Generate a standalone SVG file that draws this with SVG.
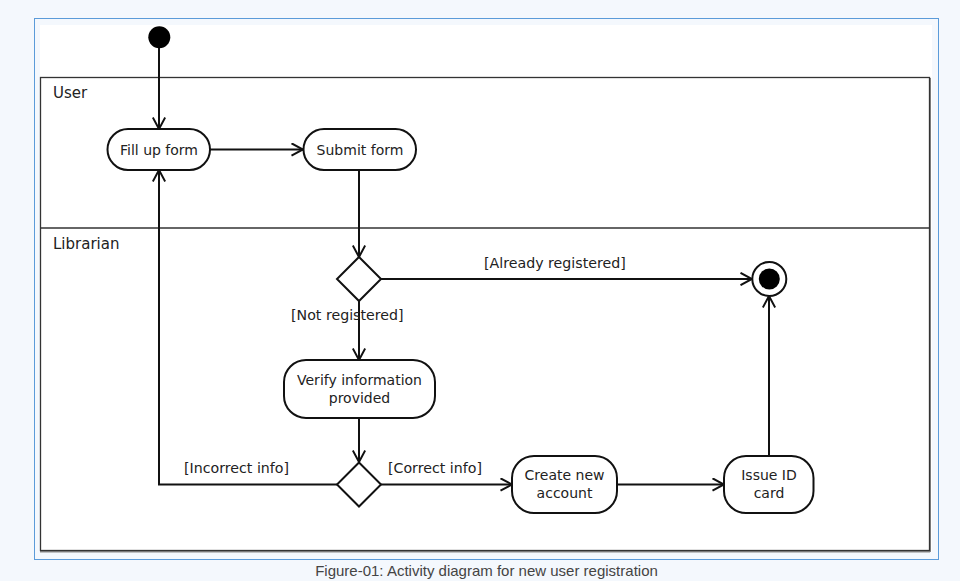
<svg xmlns="http://www.w3.org/2000/svg" width="960" height="581" viewBox="0 0 960 581">
  <style>
    .lane { fill: none; stroke: #333; stroke-width: 1.3; }
    .node { fill: #fff; stroke: #111; stroke-width: 2; }
    .txt { font-family: "DejaVu Sans", sans-serif; font-size: 14px; fill: #222; text-anchor: middle; }
    .lbl { font-family: "DejaVu Sans", sans-serif; font-size: 14.2px; fill: #222; }
    .lanetxt { font-family: "DejaVu Sans", sans-serif; font-size: 15px; fill: #222; }
    .edge { fill: none; stroke: #111; stroke-width: 2; }
    .cap { font-family: "Liberation Sans", Arial, sans-serif; font-size: 15px; fill: #444; text-anchor: middle; }
  </style>
  <defs>
    <marker id="arr" viewBox="0 0 14 14" refX="12.5" refY="7" markerWidth="14" markerHeight="14" markerUnits="userSpaceOnUse" orient="auto">
      <path d="M1,0.8 L12.5,7 L1,13.2" fill="none" stroke="#111" stroke-width="2"/>
    </marker>
  </defs>
  <rect x="0" y="0" width="960" height="581" fill="#f4f8fd"/>
  <rect x="34.5" y="18.5" width="904" height="541" fill="#f4f8fd" stroke="#5b9bd9" stroke-width="1"/>
  <rect x="40" y="25" width="892" height="527" fill="#fff"/>

  <g id="lanes">
    <line x1="930" y1="78" x2="930" y2="552" stroke="#888" stroke-width="2"/>
    <line x1="40" y1="551.5" x2="930" y2="551.5" stroke="#888" stroke-width="2"/>
    <rect class="lane" x="40.5" y="77.5" width="889" height="473"/>
    <line class="lane" x1="40.5" y1="228" x2="929.5" y2="228"/>
    <text class="lanetxt" x="53" y="98">User</text>
    <text class="lanetxt" x="53" y="249">Librarian</text>
  </g>

  <g id="connectors">
    <line class="edge" x1="159" y1="48" x2="159" y2="129" marker-end="url(#arr)"/>
    <line class="edge" x1="210" y1="149.5" x2="303" y2="149.5" marker-end="url(#arr)"/>
    <line class="edge" x1="359" y1="170" x2="359" y2="257" marker-end="url(#arr)"/>
    <line class="edge" x1="381" y1="279" x2="752" y2="279" marker-end="url(#arr)"/>
    <text class="lbl" x="484" y="268">[Already registered]</text>
    <line class="edge" x1="359" y1="301" x2="359" y2="360" marker-end="url(#arr)"/>
    <text class="lbl" x="291" y="320">[Not registered]</text>
    <line class="edge" x1="359" y1="418" x2="359" y2="462" marker-end="url(#arr)"/>
    <polyline class="edge" points="337,484.5 159,484.5 159,170" marker-end="url(#arr)"/>
    <text class="lbl" x="184" y="473">[Incorrect info]</text>
    <line class="edge" x1="381" y1="484.5" x2="512" y2="484.5" marker-end="url(#arr)"/>
    <text class="lbl" x="388" y="473">[Correct info]</text>
    <line class="edge" x1="617" y1="484.5" x2="724" y2="484.5" marker-end="url(#arr)"/>
    <line class="edge" x1="769" y1="456" x2="769" y2="296" marker-end="url(#arr)"/>
  </g>

  <g id="start">
    <circle cx="159.3" cy="37.3" r="11" fill="#000"/>
  </g>
  <g id="fill-form">
    <rect class="node" x="107.5" y="129" width="102.5" height="41" rx="20.5"/>
    <text class="txt" x="159" y="155">Fill up form</text>
  </g>
  <g id="submit-form">
    <rect class="node" x="303.5" y="129" width="112.5" height="41" rx="20.5"/>
    <text class="txt" x="360" y="155">Submit form</text>
  </g>
  <g id="decision1">
    <polygon class="node" points="359,257 381,279 359,301 337,279"/>
  </g>
  <g id="end">
    <circle cx="769.3" cy="279" r="17" fill="#fff" stroke="#111" stroke-width="2"/>
    <circle cx="769.3" cy="279" r="10.5" fill="#000"/>
  </g>
  <g id="verify">
    <rect class="node" x="284" y="360" width="151" height="58" rx="22"/>
    <text class="txt" x="359.5" y="385">Verify information</text>
    <text class="txt" x="359.5" y="402.5">provided</text>
  </g>
  <g id="decision2">
    <polygon class="node" points="359,462.5 381,484.5 359,506.5 337,484.5"/>
  </g>
  <g id="create-account">
    <rect class="node" x="512" y="456" width="105" height="57" rx="22"/>
    <text class="txt" x="564.5" y="480">Create new</text>
    <text class="txt" x="564.5" y="497.5">account</text>
  </g>
  <g id="issue-card">
    <rect class="node" x="724" y="456" width="89.5" height="57" rx="22"/>
    <text class="txt" x="769" y="480">Issue ID</text>
    <text class="txt" x="769" y="497.5">card</text>
  </g>

  <text class="cap" x="486.5" y="576">Figure-01: Activity diagram for new user registration</text>
</svg>
